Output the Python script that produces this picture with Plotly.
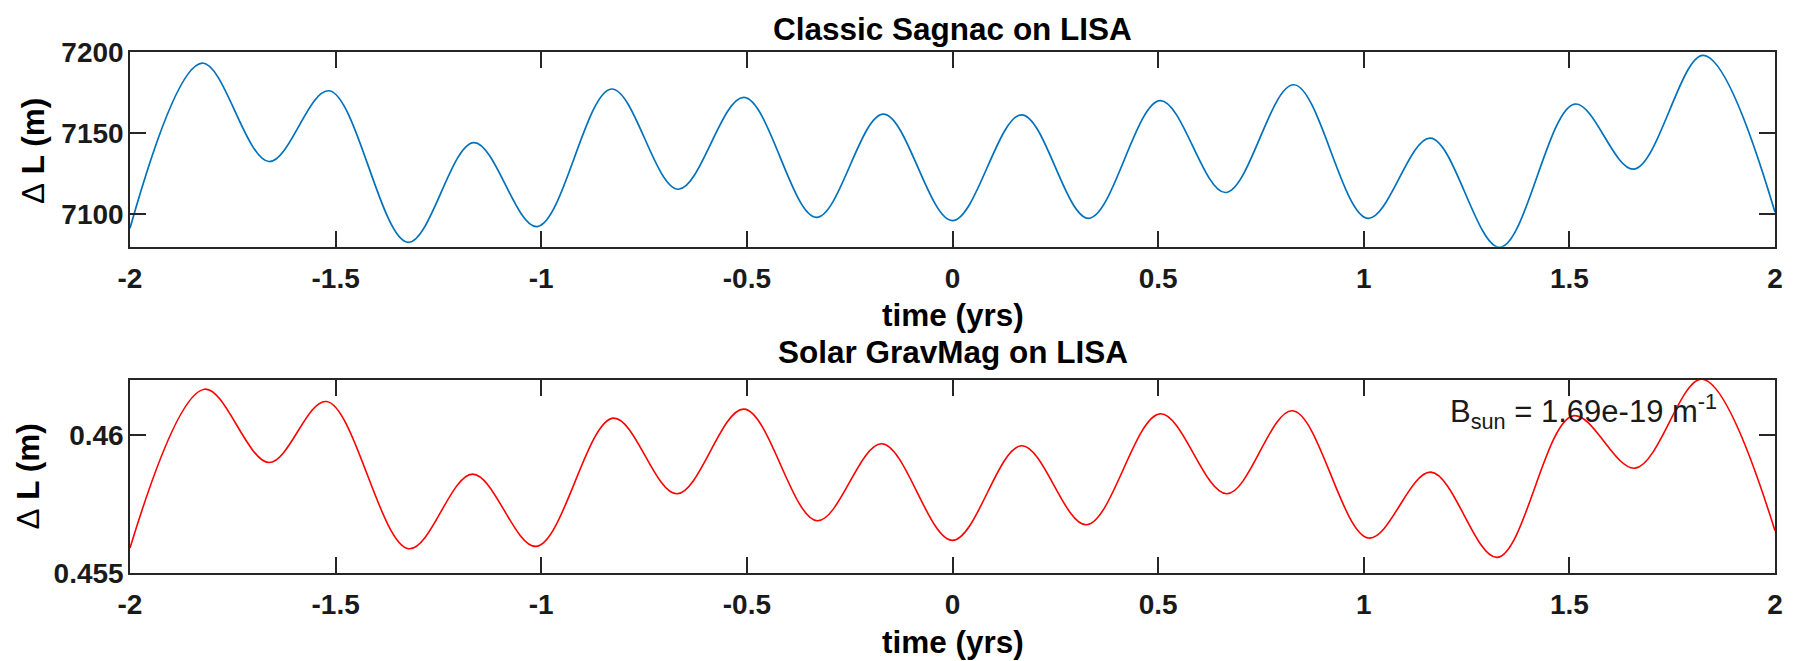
import plotly.graph_objects as go

# ---- data ----
t_sagnac = [-2.0, -1.825, -1.662, -1.516, -1.324, -1.164, -1.010, -0.829, -0.667, -0.507,
            -0.331, -0.168, 0.0, 0.168, 0.331, 0.505, 0.664, 0.830, 1.010, 1.162,
            1.331, 1.513, 1.657, 1.826, 2.0]
dl_sagnac = [7091.4, 7193.2, 7132.5, 7176.1, 7082.7, 7144.2, 7092.4, 7177.2, 7115.4, 7172.0,
             7098.1, 7161.7, 7096.1, 7161.3, 7097.5, 7170.0, 7113.4, 7179.8, 7097.5, 7146.9,
             7079.6, 7167.9, 7127.8, 7197.9, 7101.2]

t_grav = [-2.0, -1.819, -1.662, -1.522, -1.322, -1.167, -1.012, -0.825, -0.670, -0.507,
          -0.329, -0.172, 0.0, 0.168, 0.326, 0.505, 0.667, 0.827, 1.012, 1.163,
          1.325, 1.509, 1.660, 1.823, 2.0]
dl_grav = [0.455906, 0.461667, 0.459010, 0.461220, 0.455882, 0.458587, 0.455966, 0.460616,
           0.457874, 0.460942, 0.456896, 0.459686, 0.456184, 0.459614, 0.456751, 0.460773,
           0.457874, 0.460882, 0.456268, 0.458659, 0.455568, 0.460700, 0.458804, 0.462029,
           0.456534]

x_ticks = [-2, -1.5, -1, -0.5, 0, 0.5, 1, 1.5, 2]
x_ticktext = ["-2", "-1.5", "-1", "-0.5", "0", "0.5", "1", "1.5", "2"]
y1_ticks = [7100, 7150, 7200]
y1_ticktext = ["7100", "7150", "7200"]
y2_ticks = [0.455, 0.46]
y2_ticktext = ["0.455", "0.46"]

title_top = "Classic Sagnac on LISA"
title_bot = "Solar GravMag on LISA"
xlabel = "time (yrs)"
ylabel = '<span style="font-weight:normal">Δ</span> L (m)'
note = "B<sub>sun</sub> = 1.69e-19 m<sup>-1</sup>"

FONT = "Liberation Sans, Arial, Helvetica, sans-serif"
AX = "#262626"

# ---- geometry (page pixels; the page body adds an 8px offset) ----
W, H = 1794, 661
OFF = 8
L, R, T, B = 122, 27, 44, 96
PH = H - T - B
PW = W - L - R


def py(p):
    return (H - B - (p - OFF)) / PH


def px(p):
    return (p - OFF - L) / PW


fig = go.Figure()
fig.add_trace(go.Scatter(x=t_sagnac, y=dl_sagnac, mode="lines",
                         line=dict(color="#0072BD", width=1.7, shape="spline", smoothing=1.0),
                         xaxis="x", yaxis="y", showlegend=False, hoverinfo="skip"))
fig.add_trace(go.Scatter(x=t_grav, y=dl_grav, mode="lines",
                         line=dict(color="#FF0000", width=1.6, shape="spline", smoothing=1.0),
                         xaxis="x2", yaxis="y2", showlegend=False, hoverinfo="skip"))

common_x = dict(range=[-2, 2], tickvals=x_ticks, ticktext=x_ticktext,
                ticks="inside", ticklen=16, tickwidth=1.5, tickcolor=AX,
                showline=True, linecolor=AX, linewidth=1.5, mirror="ticks",
                showgrid=False, zeroline=False,
                tickfont=dict(family=FONT, size=28, color="#1a1a1a", weight="bold"),
                ticklabelstandoff=6, fixedrange=True)
common_y = dict(ticks="inside", ticklen=16, tickwidth=1.5, tickcolor=AX,
                showline=True, linecolor=AX, linewidth=1.5, mirror="ticks",
                showgrid=False, zeroline=False,
                tickfont=dict(family=FONT, size=28, color="#1a1a1a", weight="bold"),
                ticklabelstandoff=-1, fixedrange=True)

top_dom = [py(246.7), 1.0]
bot_dom = [0.0, py(380)]

fig.update_layout(
    width=W, height=H,
    margin=dict(l=L, r=R, t=T, b=B, pad=0),
    paper_bgcolor="white", plot_bgcolor="white",
    xaxis=dict(domain=[0, 1], anchor="y", **common_x),
    yaxis=dict(domain=top_dom, anchor="x", range=[7080, 7200],
               tickvals=y1_ticks, ticktext=y1_ticktext, **common_y),
    xaxis2=dict(domain=[0, 1], anchor="y2", **common_x),
    yaxis2=dict(domain=bot_dom, anchor="x2", range=[0.455, 0.462],
                tickvals=y2_ticks, ticktext=y2_ticktext, **common_y),
)

bold = dict(family=FONT, size=31.5, color="black", weight="bold")
anns = [
    dict(text=title_bot, x=0.5, y=py(352), yanchor="middle", font=bold),
    dict(text=xlabel, x=0.5, y=py(315), yanchor="middle", font=bold),
    dict(text=xlabel, x=0.5, y=py(642), yanchor="middle", font=bold),
    dict(text=ylabel, x=px(33), y=py(151), yanchor="middle", font=bold, textangle=-90),
    dict(text=ylabel, x=px(27), y=py(476.5), yanchor="middle", font=bold, textangle=-90),
    # top title: anchored by its top so that its box stays inside the page
    dict(text=title_top, x=0.5, y=py(OFF + 1), yanchor="top", font=bold),
]
for a in anns:
    fig.add_annotation(xref="paper", yref="paper", xanchor="center",
                       showarrow=False, **a)

fig.add_annotation(text=note, xref="x2", yref="y2", x=1.204, y=0.46084,
                   xanchor="left", yanchor="middle", showarrow=False,
                   font=dict(family=FONT, size=31, color="#1a1a1a"))

fig.write_html("out.html")
